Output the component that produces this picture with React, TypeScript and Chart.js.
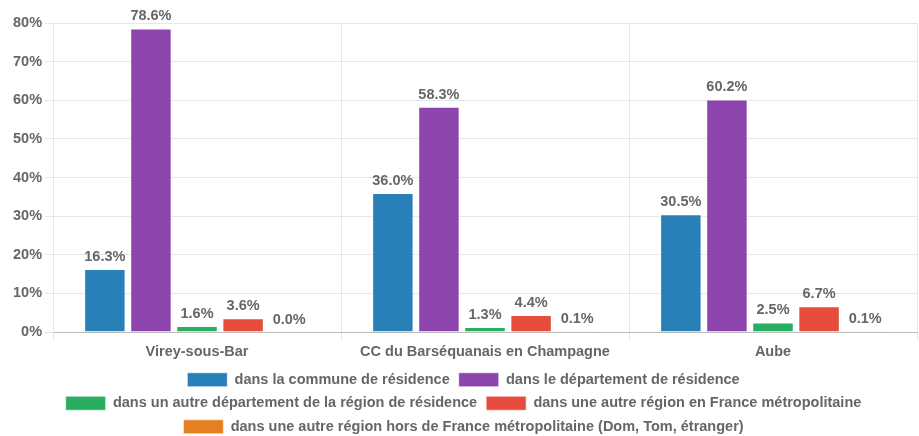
import React, { useEffect, useRef } from "react";
import { Chart, registerables } from "chart.js";

Chart.register(...registerables);

const categories = ["Virey-sous-Bar", "CC du Barséquanais en Champagne", "Aube"];
const seriesLabels = [
  "dans la commune de résidence",
  "dans le département de résidence",
  "dans un autre département de la région de résidence",
  "dans une autre région en France métropolitaine",
  "dans une autre région hors de France métropolitaine (Dom, Tom, étranger)",
];
const commune = [16.3, 36.0, 30.5];
const departement = [78.6, 58.3, 60.2];
const autreDepartement = [1.6, 1.3, 2.5];
const autreRegion = [3.6, 4.4, 6.7];
const horsMetropole = [0.0, 0.1, 0.1];
const colors = ["#2980b9", "#8e44ad", "#27ae60", "#e74c3c", "#e67e22"];
const yTicks = [0, 10, 20, 30, 40, 50, 60, 70, 80];

const FONT = "'Liberation Sans', Arial, Helvetica, sans-serif";
const SIZE = 14.5;

const valueLabels = {
  id: "valueLabels",
  afterDatasetsDraw(chart: any) {
    const ctx = chart.ctx;
    ctx.save();
    ctx.font = `bold ${SIZE}px ${FONT}`;
    ctx.fillStyle = "#666";
    ctx.textAlign = "center";
    ctx.textBaseline = "bottom";
    chart.data.datasets.forEach((ds: any, i: number) => {
      const meta = chart.getDatasetMeta(i);
      meta.data.forEach((bar: any, j: number) => {
        const v = ds.data[j];
        ctx.fillText(v.toFixed(1) + "%", bar.x, bar.y - 5);
      });
    });
    ctx.restore();
  },
};

export default function App() {
  const ref = useRef<HTMLCanvasElement>(null);
  useEffect(() => {
    document.body.style.margin = "0";
    const data = [commune, departement, autreDepartement, autreRegion, horsMetropole];
    const chart = new Chart(ref.current!, {
      type: "bar",
      data: {
        labels: categories,
        datasets: data.map((d, i) => ({
          label: seriesLabels[i],
          data: d,
          backgroundColor: colors[i],
          borderColor: "rgba(255,255,255,0.6)",
          borderWidth: 1,
          barPercentage: 0.9,
          categoryPercentage: 0.8,
        })),
      },
      options: {
        responsive: false,
        animation: false,
        layout: { padding: { top: 23, right: 2, left: 10, bottom: -8 } },
        plugins: {
          legend: {
            position: "bottom",
            labels: {
              boxWidth: 40,
              boxHeight: 14,
              color: "#666",
              font: { family: FONT, size: SIZE, weight: "bold" },
              padding: 9,
            },
          },
          tooltip: { enabled: false },
        },
        scales: {
          x: {
            grid: { color: "#e6e6e6", offset: true },
            border: { color: "#bbb" },
            ticks: { color: "#666", font: { family: FONT, size: SIZE, weight: "bold" } },
          },
          y: {
            min: yTicks[0],
            max: yTicks[yTicks.length - 1],
            grid: { color: "#e6e6e6" },
            border: { color: "#e6e6e6" },
            ticks: {
              stepSize: 10,
              color: "#666",
              font: { family: FONT, size: SIZE, weight: "bold" },
              callback: (v: any) => v + "%",
            },
          },
        },
      },
      plugins: [valueLabels],
    });
    return () => chart.destroy();
  }, []);
  return <canvas ref={ref} width={919} height={436} />;
}
